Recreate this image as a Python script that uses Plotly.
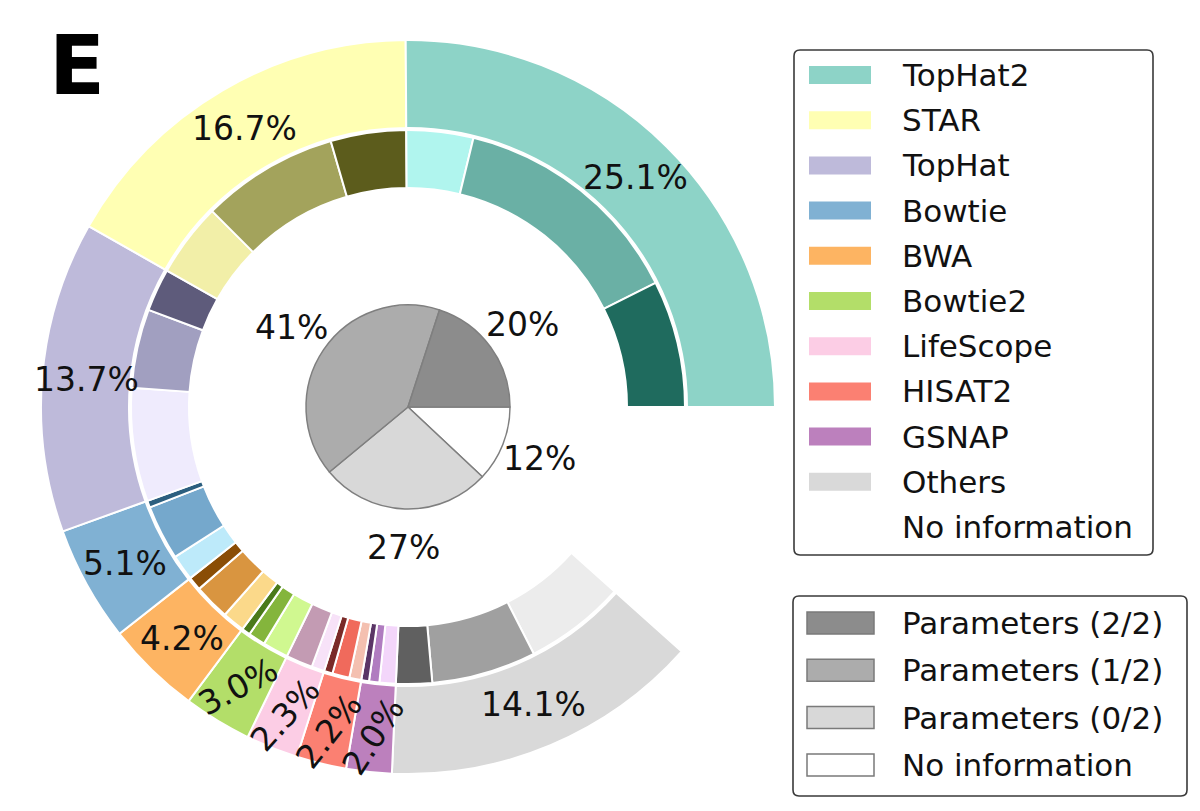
import math
import plotly.graph_objects as go

W, H = 1200, 811

# ---------------- data ----------------
tools = ["TopHat2", "STAR", "TopHat", "Bowtie", "BWA", "Bowtie2",
         "LifeScope", "HISAT2", "GSNAP", "Others", "No information"]
tool_pct = [25.1, 16.7, 13.7, 5.1, 4.2, 3.0, 2.3, 2.2, 2.0, 14.1, 11.6]
tool_colors = ["#8dd3c7", "#ffffb3", "#bebada", "#80b1d3", "#fdb462", "#b3de69",
               "#fccde5", "#fb8072", "#bc80bd", "#d9d9d9", "#ffffff"]

# split of each tool (except "No information") by parameters reported
param_22 = [7.4, 4.4, 2.5, 0.4, 0.8, 0.5, 0.0, 0.5, 0.45, 2.1]
param_12 = [13.8, 8.0, 4.6, 3.2, 2.1, 1.0, 1.55, 1.0, 0.6, 6.1]
param_02 = [3.9, 4.3, 6.6, 1.5, 1.3, 1.5, 0.75, 0.7, 0.95, 5.9]
shade_22 = ["#1f6b5e", "#5c5c1c", "#5e5b7b", "#2c5f7f", "#8a4d05", "#4a7a1a",
            "#9c6f8a", "#7a2a28", "#5a3566", "#606060"]
shade_12 = ["#6ab0a5", "#a3a35c", "#a19fc0", "#75a8cc", "#d99540", "#84b53c",
            "#c39bb3", "#f06a5c", "#b07cc0", "#a0a0a0"]
shade_02 = ["#b0f5ee", "#f2efa8", "#efebfd", "#bdeafa", "#fbd98a", "#d0f890",
            "#f7e2f8", "#f4c0b0", "#f3d6fa", "#ececec"]

param_labels = ["Parameters (2/2)", "Parameters (1/2)", "Parameters (0/2)", "No information"]
param_pct = [20, 41, 27, 12]
param_colors = ["#8c8c8c", "#acacac", "#d8d8d8", "#ffffff"]

# ---------------- geometry / style ----------------
CX, CY = 408, 407
R_OUT, R_OUT_IN = 367, 279
R_MID, R_MID_IN = 277, 219
R_PIE = 102
R_PIE_LAB = 141
label_r = [323, 323, 323, 323, 323, 327, 331, 333, 331, 323]
label_rot = [0, 0, 0, 0, 0, -28, -48, -52, -57, 0]
FONT = "DejaVu Sans"


def px(x):
    return x / W


def py(y):
    return 1 - y / H


def domain(r):
    return dict(x=[px(CX - r), px(CX + r)], y=[py(CY + r), py(CY - r)])


fig = go.Figure()

# outer ring: tools (counter-clockwise from 3 o'clock)
fig.add_trace(go.Pie(
    labels=tools[::-1], values=tool_pct[::-1],
    marker=dict(colors=tool_colors[::-1], line=dict(color="white", width=2)),
    hole=R_OUT_IN / R_OUT, domain=domain(R_OUT),
    sort=False, direction="clockwise", rotation=90,
    textinfo="none", hoverinfo="label+value", showlegend=False,
))

# middle ring: parameter split per tool
mid_labels, mid_vals, mid_cols = [], [], []
for i in range(len(param_22)):
    for name, vals, cols in (("2/2", param_22, shade_22),
                             ("1/2", param_12, shade_12),
                             ("0/2", param_02, shade_02)):
        if vals[i] > 0:
            mid_labels.append(f"{tools[i]} {name}")
            mid_vals.append(vals[i])
            mid_cols.append(cols[i])
mid_labels.append("No information ")
mid_vals.append(tool_pct[-1])
mid_cols.append("rgba(255,255,255,0)")

fig.add_trace(go.Pie(
    labels=mid_labels[::-1], values=mid_vals[::-1],
    marker=dict(colors=mid_cols[::-1], line=dict(color="white", width=2)),
    hole=R_MID_IN / R_MID, domain=domain(R_MID),
    sort=False, direction="clockwise", rotation=90,
    textinfo="none", hoverinfo="label+value", showlegend=False,
))

# inner pie: overall parameter reporting
fig.add_trace(go.Pie(
    labels=param_labels[::-1], values=param_pct[::-1],
    marker=dict(colors=param_colors[::-1], line=dict(color="#7f7f7f", width=1.5)),
    domain=domain(R_PIE),
    sort=False, direction="clockwise", rotation=90,
    textinfo="none", hoverinfo="label+value", showlegend=False,
))

annotations = []

# percentage labels on the outer ring
total = sum(tool_pct)
cum = 0.0
for i, v in enumerate(tool_pct[:-1]):
    mid = math.radians((cum + v / 2) / total * 360)
    cum += v
    annotations.append(dict(
        x=px(CX + label_r[i] * math.cos(mid)), y=py(CY - label_r[i] * math.sin(mid)),
        xref="paper", yref="paper", text=f"{v:.1f}%", showarrow=False,
        textangle=label_rot[i], xanchor="center", yanchor="middle",
        font=dict(family=FONT, size=33, color="#111111"),
    ))

# percentage labels of the inner pie
ptotal = sum(param_pct)
cum = 0.0
for v in param_pct:
    mid = math.radians((cum + v / 2) / ptotal * 360)
    cum += v
    annotations.append(dict(
        x=px(CX + R_PIE_LAB * math.cos(mid)), y=py(CY - R_PIE_LAB * math.sin(mid)),
        xref="paper", yref="paper", text=f"{v}%", showarrow=False,
        xanchor="center", yanchor="middle",
        font=dict(family=FONT, size=33, color="#111111"),
    ))

# panel letter
annotations.append(dict(
    x=px(77), y=py(65), xref="paper", yref="paper", text="<b>E</b>",
    showarrow=False, xanchor="center", yanchor="middle",
    font=dict(family=FONT, size=82, color="black"),
))

shapes = []


def rounded_box(x0, y0, x1, y1, r=6):
    rx, ry = r / W, r / H
    X0, X1 = px(x0), px(x1)
    Y0, Y1 = py(y0), py(y1)  # Y0 top, Y1 bottom
    path = (f"M{X0 + rx},{Y0} L{X1 - rx},{Y0} Q{X1},{Y0} {X1},{Y0 - ry} "
            f"L{X1},{Y1 + ry} Q{X1},{Y1} {X1 - rx},{Y1} "
            f"L{X0 + rx},{Y1} Q{X0},{Y1} {X0},{Y1 + ry} "
            f"L{X0},{Y0 - ry} Q{X0},{Y0} {X0 + rx},{Y0} Z")
    return dict(type="path", xref="paper", yref="paper", path=path,
                line=dict(color="#3a3a3a", width=1.6), fillcolor="white", layer="below")


# legend 1: tools
shapes.append(rounded_box(794, 50, 1153, 555))
for i, (name, col) in enumerate(zip(tools, tool_colors)):
    yc = 75 + 45.2 * i
    if name != "No information":
        shapes.append(dict(type="rect", xref="paper", yref="paper",
                           x0=px(809), x1=px(871), y0=py(yc + 9), y1=py(yc - 9),
                           fillcolor=col, line=dict(width=0)))
    annotations.append(dict(x=px(900), y=py(yc), xref="paper", yref="paper",
                            text=name, showarrow=False, xanchor="left", yanchor="middle",
                            font=dict(family=FONT, size=31, color="#111111")))

# legend 2: parameters
shapes.append(rounded_box(793, 596, 1187, 796))
for i, (name, col) in enumerate(zip(param_labels, param_colors)):
    yc = 623 + 47.3 * i
    shapes.append(dict(type="rect", xref="paper", yref="paper",
                       x0=px(807), x1=px(874), y0=py(yc + 11), y1=py(yc - 11),
                       fillcolor=col, line=dict(color="#7a7a7a", width=1.5)))
    annotations.append(dict(x=px(900), y=py(yc), xref="paper", yref="paper",
                            text=name, showarrow=False, xanchor="left", yanchor="middle",
                            font=dict(family=FONT, size=31, color="#111111")))

fig.update_layout(
    width=W, height=H,
    margin=dict(l=0, r=0, t=0, b=0),
    paper_bgcolor="white", plot_bgcolor="white",
    showlegend=False,
    annotations=annotations,
    shapes=shapes,
    font=dict(family=FONT),
)

fig.write_html("out.html",
               config={"displayModeBar": False},
               post_script="document.body.style.margin='0px';document.body.style.overflow='hidden';")
